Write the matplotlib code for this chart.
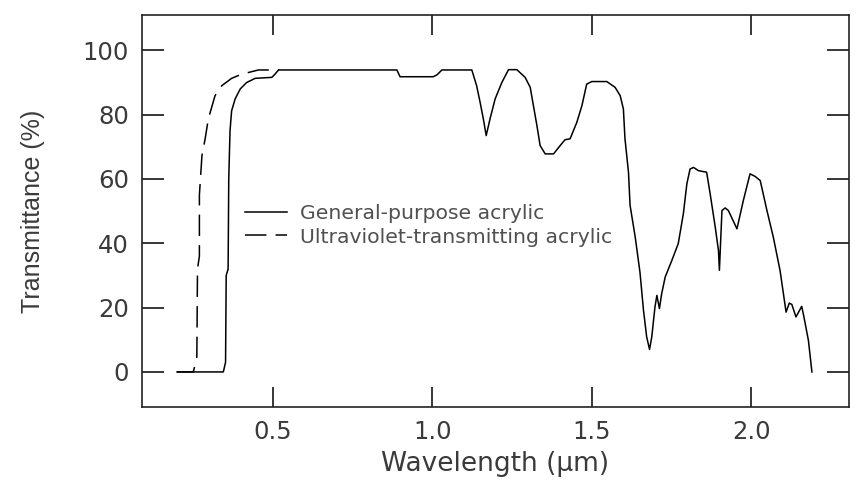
import matplotlib
matplotlib.use("Agg")
import matplotlib.pyplot as plt

# transmittance spectra of two acrylic grades (wavelength in um, transmittance in %)
gp_wavelength = [
    0.20, 0.345, 0.352, 0.354, 0.360, 0.362, 0.366, 0.371, 0.382, 0.398,
    0.418, 0.445, 0.497, 0.507, 0.518, 0.889, 0.899, 1.003, 1.015, 1.030,
    1.124, 1.139, 1.150, 1.160, 1.169, 1.181, 1.197, 1.218, 1.239, 1.265,
    1.291, 1.307, 1.317, 1.328, 1.338, 1.354, 1.380, 1.401, 1.416, 1.432,
    1.453, 1.469, 1.484, 1.500, 1.547, 1.573, 1.589, 1.599, 1.604, 1.615,
    1.620, 1.636, 1.651, 1.662, 1.672, 1.681, 1.688, 1.698, 1.704, 1.712,
    1.719, 1.730, 1.751, 1.771, 1.787, 1.798, 1.808, 1.819, 1.834, 1.860,
    1.871, 1.887, 1.897, 1.900, 1.908, 1.918, 1.928, 1.955, 1.975, 1.996,
    2.012, 2.028, 2.049, 2.069, 2.090, 2.109, 2.119, 2.127, 2.140, 2.158,
    2.165, 2.179, 2.190,
]
gp_transmittance = [
    0.0, 0.0, 3.0, 30.0, 32.0, 60.0, 75.0, 81.2, 84.9, 88.0,
    90.0, 91.3, 91.6, 92.6, 93.9, 93.9, 91.8, 91.8, 92.4, 93.9,
    93.9, 89.0, 83.8, 78.7, 73.5, 78.7, 84.9, 90.0, 94.0, 94.0,
    91.6, 88.5, 82.8, 76.6, 70.4, 67.8, 67.8, 70.4, 72.2, 72.5,
    77.6, 82.8, 89.5, 90.3, 90.3, 88.5, 85.9, 81.8, 72.5, 62.1,
    51.8, 42.0, 31.0, 19.2, 10.9, 7.0, 10.9, 20.2, 23.8, 19.7,
    24.3, 29.5, 34.7, 39.9, 49.2, 58.5, 63.1, 63.6, 62.6, 62.1,
    55.4, 45.0, 37.8, 31.6, 50.2, 51.0, 50.2, 44.5, 53.3, 61.6,
    60.8, 59.5, 50.2, 41.9, 31.6, 18.6, 21.4, 21.0, 17.1, 20.4,
    17.1, 9.8, 0.0,
]

uv_wavelength = [
    0.20, 0.251, 0.262, 0.264, 0.270, 0.270, 0.278, 0.288, 0.298, 0.319,
    0.340, 0.371, 0.403, 0.455, 0.52,
]
uv_transmittance = [
    0.0, 0.0, 4.7, 32.0, 36.0, 55.0, 67.3, 72.5, 78.7, 85.9,
    89.0, 91.3, 92.6, 93.9, 93.9,
]

x_ticks = [0.5, 1.0, 1.5, 2.0]
y_ticks = [0, 20, 40, 60, 80, 100]

fig = plt.figure(figsize=(8.58, 4.96), dpi=100)
ax = fig.add_axes([0.1651, 0.1788, 0.8247, 0.791])

ax.plot(gp_wavelength, gp_transmittance, color="black", lw=1.1,
        label="General-purpose acrylic")
ax.plot(uv_wavelength, uv_transmittance, color="black", lw=1.1,
        dashes=(14, 6), label="Ultraviolet-transmitting acrylic")

ax.set_xlim(0.089, 2.307)
ax.set_ylim(-11, 111)
ax.set_xticks(x_ticks)
ax.set_xticklabels([f"{v:.1f}" for v in x_ticks])
ax.set_yticks(y_ticks)

text_color = "#3a3a3a"
ax.tick_params(axis="both", direction="in", top=True, right=True,
               width=1.1, labelsize=17.5, labelcolor=text_color, pad=9)
ax.tick_params(axis="x", length=14.5)
ax.tick_params(axis="y", length=16)
for spine in ax.spines.values():
    spine.set_linewidth(1.2)
    spine.set_color("#222222")

ax.set_xlabel("Wavelength (\u00b5m)", fontsize=19, color=text_color, labelpad=5)
ax.set_ylabel("Transmittance (%)", fontsize=18, color=text_color,
              family="Liberation Sans", labelpad=27)

leg = ax.legend(loc="center left", bbox_to_anchor=(245 / 858, 1 - 225.5 / 496),
                bbox_transform=fig.transFigure, frameon=False, fontsize=14.7,
                handlelength=2.05, handletextpad=0.65, labelspacing=0.2,
                borderpad=0, borderaxespad=0)
for t in leg.get_texts():
    t.set_color("#505050")

fig.savefig("out.png", dpi=100)
